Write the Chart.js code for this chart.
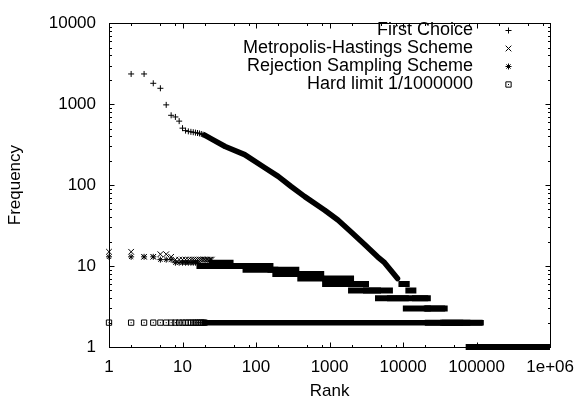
<!DOCTYPE html>
<html><head><meta charset="utf-8">
<script src="https://cdn.jsdelivr.net/npm/chart.js@4/dist/chart.umd.min.js"></script>
<style>html,body{margin:0;padding:0;background:#fff}canvas{display:block}</style>
</head><body>
<canvas id="c" width="584" height="400"></canvas>
<script>
// ---- tick labels ----
const xTickValues = [1, 10, 100, 1000, 10000, 100000, 1000000];
const xTickLabels = ["1", "10", "100", "1000", "10000", "100000", "1e+06"];
const yTickValues = [1, 10, 100, 1000, 10000];
const yTickLabels = ["1", "10", "100", "1000", "10000"];
const seriesNames = ["First Choice", "Metropolis-Hastings Scheme", "Rejection Sampling Scheme", "Hard limit 1/1000000"];

// ---- First Choice ----
const fcRanks = [2, 3, 4, 5, 6, 7, 8, 9, 10, 11, 12, 13, 14, 15, 16, 17, 18, 19, 20];
const fcFreq = [2360, 2360, 1810, 1570, 980, 728, 695, 617, 505, 471, 461, 455, 450, 445, 440, 435, 428, 420, 415];
const fcCurveRanks = [20, 25, 38, 70, 130, 200, 300, 460, 860, 1300, 2000, 3000, 4500, 5600, 7200, 8400];
const fcCurveFreq = [415, 370, 300, 238, 165, 128, 96, 72, 49, 37, 26, 18.5, 13, 11, 8.3, 7];
// runs: [first rank, last rank, frequency]
const fcRuns = [[9500, 11200, 6], [11800, 13800, 5], [14500, 20000, 4], [21000, 34000, 3], [35000, 75000, 2], [78000, 900000, 1]];

// ---- Metropolis-Hastings ----
const mhRanks = [1, 2, 3, 4, 5, 6, 7, 8, 9, 10, 11, 12, 13, 14, 15, 16, 17, 18, 19, 20, 21, 22, 23, 24, 25];
const mhFreq = [15, 15, 13, 13, 14, 14, 13, 12, 12, 12, 12, 12, 12, 12, 12, 12, 12, 12, 12, 12, 12, 12, 12, 12, 12];
const mhRuns = [[25, 45, 11], [45, 157, 10], [157, 353, 9], [353, 770, 8], [870, 1960, 7], [1960, 3130, 6], [3130, 4560, 5], [4560, 10900, 4], [10900, 21700, 3], [21700, 60000, 2], [80000, 900000, 1]];

// ---- Rejection Sampling ----
const rsRanks = [1, 2, 3, 4, 5, 6, 7, 8, 9, 10, 11, 12, 13, 14, 15, 16];
const rsFreq = [13, 13, 13, 13, 12, 12, 12, 11, 11, 11, 11, 11, 11, 11, 11, 11];
const rsRuns = [[17, 72, 10], [72, 183, 9], [183, 400, 8], [400, 770, 7], [870, 1960, 6], [1960, 6620, 5], [6620, 21700, 4], [21700, 36800, 3], [36800, 110000, 2], [110000, 900000, 1]];

// ---- Hard limit ----
const hlRanks = [1, 2, 3, 4, 5, 6, 7, 8, 9, 10, 11, 12, 13, 14, 15, 16, 17, 18, 19, 20];
const hlFreq = [2, 2, 2, 2, 2, 2, 2, 2, 2, 2, 2, 2, 2, 2, 2, 2, 2, 2, 2, 2];
const hlRuns = [[20, 115000, 2]];

const FONT = '"Liberation Sans", Arial, Helvetica, sans-serif';

function pts(r, f) { return r.map((v, i) => ({x: v, y: f[i]})); }
function runPts(runs) {
  const out = [];
  runs.forEach(([a, b, f]) => { out.push({x: a, y: f}, {x: b, y: f}, {x: b, y: null}); });
  return out;
}
const base = {borderColor: '#000', backgroundColor: '#000', clip: false, pointHoverRadius: 0};
function sparse(data, style, r) {
  return Object.assign({}, base, {data, showLine: false, pointStyle: style, pointRadius: r, pointBorderWidth: 1, backgroundColor: 'rgba(0,0,0,0)'});
}
function band(data, w, cap) {
  return Object.assign({}, base, {data, showLine: true, borderWidth: w, pointRadius: 0, borderCapStyle: cap || 'square', borderJoinStyle: 'round', spanGaps: false, tension: 0});
}

function drawMarker(ctx, style, x, y, r) {
  ctx.beginPath();
  const d = r * Math.SQRT1_2;
  if (style === 'cross' || style === 'star') {
    ctx.moveTo(x - r, y); ctx.lineTo(x + r, y); ctx.moveTo(x, y - r); ctx.lineTo(x, y + r);
  }
  if (style === 'crossRot' || style === 'star') {
    ctx.moveTo(x - d, y - d); ctx.lineTo(x + d, y + d); ctx.moveTo(x - d, y + d); ctx.lineTo(x + d, y - d);
  }
  if (style === 'rect') {
    ctx.rect(x - d, y - d, 2 * d, 2 * d);
  }
  ctx.stroke();
  if (style === 'rect') ctx.fillRect(x - 0.5, y - 0.5, 1, 1);
}

const legendStyles = [['cross', 3], ['crossRot', 4], ['star', 3], ['rect', 3.75]];

const framePlugin = {
  id: 'frame',
  afterDatasetsDraw(chart) {
    const ctx = chart.ctx, a = chart.chartArea;
    const xs = chart.scales.x, ys = chart.scales.y;
    ctx.save();
    ctx.strokeStyle = '#000'; ctx.fillStyle = '#000'; ctx.lineWidth = 1;
    const L = Math.round(a.left) + 0.5, R = Math.round(a.right) + 0.5, T = Math.round(a.top) + 0.5, B = Math.round(a.bottom) + 0.5;
    ctx.strokeRect(L, T, R - L, B - T);
    ctx.beginPath();
    for (let k = 0; k <= 6; k++) {
      const dec = Math.pow(10, k);
      const px = Math.round(xs.getPixelForValue(dec)) + 0.5;
      ctx.moveTo(px, B); ctx.lineTo(px, B - 5); ctx.moveTo(px, T); ctx.lineTo(px, T + 5);
      if (k < 6) [2, 5, 8].forEach(m => {
        const p = Math.round(xs.getPixelForValue(m * dec)) + 0.5;
        ctx.moveTo(p, B); ctx.lineTo(p, B - 2.5); ctx.moveTo(p, T); ctx.lineTo(p, T + 2.5);
      });
    }
    for (let k = 0; k <= 4; k++) {
      const dec = Math.pow(10, k);
      const py = Math.round(ys.getPixelForValue(dec)) + 0.5;
      ctx.moveTo(L, py); ctx.lineTo(L + 5, py); ctx.moveTo(R, py); ctx.lineTo(R - 5, py);
      if (k < 4) [2, 3, 4, 5, 6, 7, 8, 9].forEach(m => {
        const p = Math.round(ys.getPixelForValue(m * dec)) + 0.5;
        ctx.moveTo(L, p); ctx.lineTo(L + 2.5, p); ctx.moveTo(R, p); ctx.lineTo(R - 2.5, p);
      });
    }
    ctx.stroke();
    ctx.font = '18px ' + FONT;
    ctx.textAlign = 'right'; ctx.textBaseline = 'middle';
    seriesNames.forEach((n, i) => {
      const y = 29.5 + i * 18;
      ctx.fillText(n, 473, y + 1);
      drawMarker(ctx, legendStyles[i][0], 508.5, Math.round(y) + 0.5, legendStyles[i][1]);
    });
    ctx.restore();
  }
};

new Chart(document.getElementById('c'), {
  type: 'scatter',
  data: {
    datasets: [
      sparse(pts(fcRanks, fcFreq), 'cross', 3),
      band(pts(fcCurveRanks, fcCurveFreq), 5.5, 'round'),
      band(runPts(fcRuns), 6),
      sparse(pts(mhRanks, mhFreq), 'crossRot', 4),
      band(runPts(mhRuns), 6),
      sparse(pts(rsRanks, rsFreq), 'star', 3),
      band(runPts(rsRuns), 6),
      sparse(pts(hlRanks, hlFreq), 'rect', 3.75),
      Object.assign({}, base, {data: pts(hlRanks, hlFreq), showLine: false, pointStyle: 'circle', pointRadius: 0.6, pointBorderWidth: 0}),
      band(runPts(hlRuns), 5.5)
    ]
  },
  options: {
    responsive: false,
    animation: false,
    events: [],
    devicePixelRatio: 1,
    layout: {padding: {top: 16, right: 30.5, left: 0, bottom: 0}},
    plugins: {legend: {display: false}, tooltip: {enabled: false}},
    scales: {
      x: {
        type: 'logarithmic', min: 1, max: 1000000,
        grid: {display: false, drawTicks: false},
        border: {display: false},
        afterBuildTicks: s => { s.ticks = xTickValues.map(v => ({value: v})); },
        afterFit: s => { s.height = 53; },
        ticks: {
          autoSkip: false, maxRotation: 0, padding: 10, color: '#000',
          font: {family: FONT, size: 17},
          callback: v => { const i = xTickValues.indexOf(v); return i >= 0 ? xTickLabels[i] : ''; }
        },
        title: {display: true, text: 'Rank', color: '#000', font: {family: FONT, size: 17, lineHeight: 1}, padding: {top: 0, bottom: 0}}
      },
      y: {
        type: 'logarithmic', min: 1, max: 10000,
        grid: {display: false, drawTicks: false},
        border: {display: false},
        afterBuildTicks: s => { s.ticks = yTickValues.map(v => ({value: v})); },
        afterFit: s => { s.width = 109; },
        ticks: {
          autoSkip: false, padding: 13, color: '#000',
          font: {family: FONT, size: 17},
          callback: v => { const i = yTickValues.indexOf(v); return i >= 0 ? yTickLabels[i] : ''; }
        },
        title: {display: true, text: 'Frequency', color: '#000', font: {family: FONT, size: 17, lineHeight: 1}, padding: {top: 6.5, bottom: 0}}
      }
    }
  },
  plugins: [framePlugin]
});
</script>
</body></html>
